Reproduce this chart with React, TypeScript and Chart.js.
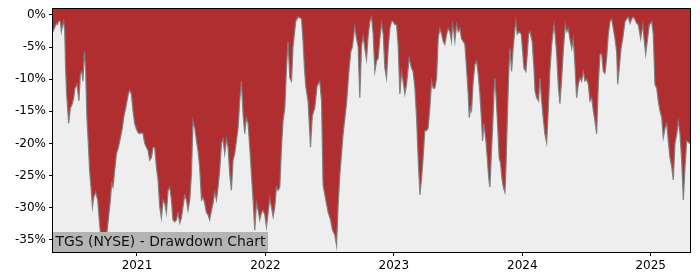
import React, { useEffect, useRef } from "react";
import { Chart, registerables } from "chart.js";

Chart.register(...registerables);

// [decimal year, drawdown %]
const dd2020: [number, number][] = [
  [2020.346, -2.6], [2020.356, -2.1], [2020.372, -1.3], [2020.382, -1.5], [2020.39, -0.9], [2020.403, -1.0],
  [2020.411, -2.6], [2020.419, -1.8], [2020.429, -1.0], [2020.437, -2.3], [2020.444, -8.3], [2020.452, -12.3],
  [2020.468, -16.9], [2020.481, -14.5], [2020.497, -13.8], [2020.507, -12.9], [2020.517, -11.4], [2020.533, -10.8],
  [2020.548, -13.4], [2020.559, -9.2], [2020.569, -8.8], [2020.579, -10.3], [2020.59, -5.7], [2020.6, -8.3],
  [2020.61, -16.0], [2020.621, -20.0], [2020.631, -24.2], [2020.642, -26.8], [2020.653, -29.9], [2020.663, -28.4],
  [2020.678, -27.6], [2020.694, -28.8], [2020.704, -31.4], [2020.715, -33.9], [2020.73, -35.8], [2020.743, -36.5],
  [2020.756, -35.0], [2020.766, -33.9], [2020.782, -30.8], [2020.793, -28.8], [2020.803, -26.2], [2020.813, -26.8],
  [2020.829, -23.7], [2020.84, -21.6], [2020.855, -20.6], [2020.871, -19.1], [2020.886, -17.6], [2020.896, -16.0],
  [2020.912, -14.5], [2020.922, -13.4], [2020.933, -12.3], [2020.943, -11.7], [2020.956, -12.3], [2020.969, -14.9],
  [2020.982, -16.9], [2020.995, -17.7],
];

const dd2021: [number, number][] = [
  [2021.008, -18.3], [2021.021, -18.5], [2021.034, -18.3], [2021.047, -18.5], [2021.06, -20.0], [2021.073, -20.6],
  [2021.086, -21.1], [2021.099, -22.6], [2021.112, -22.2], [2021.125, -20.6], [2021.138, -20.6], [2021.151, -23.7],
  [2021.164, -25.7], [2021.177, -29.9], [2021.19, -31.6], [2021.203, -28.8], [2021.216, -29.3], [2021.229, -30.8],
  [2021.242, -27.3], [2021.255, -26.8], [2021.268, -28.8], [2021.28, -31.9], [2021.294, -32.2], [2021.307, -31.9],
  [2021.319, -30.8], [2021.333, -32.4], [2021.346, -31.6], [2021.358, -29.9], [2021.372, -28.0], [2021.385, -28.8],
  [2021.397, -30.4], [2021.411, -28.8], [2021.424, -24.7], [2021.436, -16.5], [2021.45, -17.6], [2021.463, -19.6],
  [2021.475, -21.1], [2021.488, -23.7], [2021.502, -28.8], [2021.514, -28.4], [2021.527, -29.3], [2021.541, -30.8],
  [2021.553, -31.1], [2021.566, -31.9], [2021.58, -30.4], [2021.592, -29.3], [2021.605, -27.6], [2021.619, -28.8],
  [2021.631, -26.8], [2021.644, -24.2], [2021.658, -20.0], [2021.67, -19.3], [2021.683, -21.6], [2021.697, -19.3],
  [2021.709, -20.6], [2021.722, -24.7], [2021.735, -27.3], [2021.748, -22.6], [2021.761, -21.6], [2021.774, -19.6],
  [2021.787, -17.6], [2021.8, -13.4], [2021.813, -10.3], [2021.826, -15.4], [2021.839, -18.5], [2021.852, -16.0],
  [2021.865, -16.9], [2021.878, -20.6], [2021.891, -24.7], [2021.904, -28.8], [2021.917, -33.5], [2021.93, -29.3],
  [2021.943, -30.4], [2021.956, -31.9], [2021.969, -30.8], [2021.982, -30.4], [2021.995, -31.1],
];

const dd2022: [number, number][] = [
  [2022.008, -33.0], [2022.021, -30.8], [2022.034, -28.5], [2022.047, -29.9], [2022.06, -31.4], [2022.073, -29.9],
  [2022.086, -26.8], [2022.099, -27.3], [2022.112, -26.8], [2022.125, -20.6], [2022.137, -16.5], [2022.151, -14.5],
  [2022.164, -8.3], [2022.176, -4.1], [2022.19, -9.8], [2022.203, -10.3], [2022.215, -4.9], [2022.236, -1.0],
  [2022.254, -0.3], [2022.281, -0.6], [2022.293, -4.1], [2022.304, -8.3], [2022.314, -11.1], [2022.332, -13.4],
  [2022.351, -20.6], [2022.365, -15.7], [2022.384, -14.5], [2022.402, -11.1], [2022.423, -10.3], [2022.437, -13.4],
  [2022.449, -26.5], [2022.47, -28.8], [2022.488, -30.7], [2022.507, -31.9], [2022.522, -33.5], [2022.54, -34.2],
  [2022.554, -35.9], [2022.566, -29.6], [2022.579, -25.0], [2022.605, -18.5], [2022.631, -13.9], [2022.652, -8.3],
  [2022.665, -5.7], [2022.678, -4.9], [2022.696, -1.8], [2022.709, -3.7], [2022.722, -4.9], [2022.735, -12.9],
  [2022.748, -4.9], [2022.761, -3.3], [2022.774, -5.2], [2022.787, -6.9], [2022.8, -3.3], [2022.813, -1.0],
  [2022.826, -0.3], [2022.839, -3.0], [2022.852, -8.8], [2022.865, -7.2], [2022.878, -6.7], [2022.891, -3.7],
  [2022.904, -1.3], [2022.917, -3.0], [2022.93, -8.3], [2022.943, -9.8], [2022.956, -5.2], [2022.969, -2.1],
  [2022.982, -1.0], [2022.994, -1.0],
];

const dd2023: [number, number][] = [
  [2023.008, -1.5], [2023.021, -1.5], [2023.033, -4.6], [2023.047, -12.3], [2023.06, -8.8], [2023.072, -10.3],
  [2023.086, -12.3], [2023.099, -10.8], [2023.119, -6.7], [2023.138, -8.3], [2023.15, -8.8], [2023.164, -11.4],
  [2023.177, -16.0], [2023.189, -22.2], [2023.203, -28.0], [2023.216, -25.3], [2023.228, -22.2], [2023.241, -18.0],
  [2023.255, -18.0], [2023.267, -17.6], [2023.28, -14.5], [2023.294, -10.3], [2023.306, -11.4], [2023.319, -11.4],
  [2023.333, -9.8], [2023.345, -3.7], [2023.358, -2.1], [2023.372, -3.0], [2023.384, -4.1], [2023.397, -4.6],
  [2023.411, -3.0], [2023.423, -2.1], [2023.436, -2.6], [2023.449, -4.1], [2023.457, -1.5], [2023.467, -2.6],
  [2023.475, -4.1], [2023.488, -1.5], [2023.501, -2.6], [2023.514, -2.1], [2023.527, -3.7], [2023.54, -4.1],
  [2023.553, -4.6], [2023.566, -8.3], [2023.579, -12.3], [2023.587, -16.0], [2023.598, -14.5], [2023.605, -14.9],
  [2023.618, -10.3], [2023.631, -7.7], [2023.644, -7.2], [2023.657, -9.2], [2023.67, -12.3], [2023.683, -16.5],
  [2023.691, -19.6], [2023.701, -16.9], [2023.717, -19.6], [2023.727, -22.2], [2023.74, -25.7], [2023.748, -26.8],
  [2023.758, -22.2], [2023.769, -17.6], [2023.779, -12.3], [2023.787, -9.8], [2023.795, -12.3], [2023.805, -16.0],
  [2023.82, -22.2], [2023.831, -23.1], [2023.841, -25.3], [2023.852, -26.8], [2023.865, -27.6], [2023.873, -23.7],
  [2023.883, -16.5], [2023.894, -9.2], [2023.904, -5.2], [2023.917, -8.8], [2023.929, -5.2], [2023.943, -2.1],
  [2023.95, -1.0], [2023.961, -3.0], [2023.976, -2.6], [2023.992, -3.0],
];

const dd2024: [number, number][] = [
  [2024.003, -5.7], [2024.013, -8.3], [2024.028, -8.8], [2024.039, -6.1], [2024.049, -3.0], [2024.06, -2.6],
  [2024.077, -4.1], [2024.091, -8.3], [2024.099, -11.8], [2024.112, -12.9], [2024.127, -13.4], [2024.137, -9.8],
  [2024.151, -13.4], [2024.163, -16.0], [2024.176, -18.5], [2024.19, -19.9], [2024.202, -14.9], [2024.215, -8.8],
  [2024.229, -4.6], [2024.247, -1.5], [2024.254, -2.6], [2024.268, -6.1], [2024.28, -10.8], [2024.293, -13.8],
  [2024.307, -9.8], [2024.319, -5.7], [2024.335, -1.5], [2024.346, -2.6], [2024.358, -2.1], [2024.371, -3.7],
  [2024.385, -5.2], [2024.397, -3.7], [2024.41, -7.7], [2024.423, -12.9], [2024.436, -10.8], [2024.449, -9.8],
  [2024.462, -10.3], [2024.475, -8.8], [2024.488, -10.3], [2024.501, -10.0], [2024.514, -10.8], [2024.527, -13.4],
  [2024.54, -12.9], [2024.553, -14.9], [2024.566, -16.5], [2024.579, -18.5], [2024.592, -10.8], [2024.605, -6.1],
  [2024.618, -6.0], [2024.631, -8.8], [2024.644, -9.1], [2024.657, -6.7], [2024.67, -3.0], [2024.683, -1.0],
  [2024.696, -0.6], [2024.709, -2.1], [2024.722, -3.7], [2024.735, -5.7], [2024.743, -10.8], [2024.755, -8.3],
  [2024.769, -5.2], [2024.782, -3.7], [2024.8, -1.0], [2024.813, -0.6], [2024.825, -0.3], [2024.839, -1.3],
  [2024.852, -0.6], [2024.864, -0.3], [2024.878, -0.7], [2024.891, -1.3], [2024.903, -1.5], [2024.922, -3.7],
  [2024.938, -1.5], [2024.948, -3.7], [2024.961, -6.1], [2024.973, -4.1], [2024.989, -1.5],
];

const dd2025: [number, number][] = [
  [2025.008, -1.0], [2025.02, -3.0], [2025.033, -10.8], [2025.047, -11.4], [2025.059, -13.4], [2025.072, -14.9],
  [2025.086, -16.0], [2025.098, -19.1], [2025.112, -17.6], [2025.125, -16.9], [2025.137, -19.6], [2025.15, -22.2],
  [2025.164, -23.7], [2025.176, -25.7], [2025.189, -20.0], [2025.203, -18.5], [2025.215, -16.5], [2025.228, -18.5],
  [2025.241, -22.6], [2025.254, -28.8], [2025.267, -23.7], [2025.28, -19.6], [2025.306, -20.0],
];

const yTicks = [0, -5, -10, -15, -20, -25, -30, -35];
const xTicks = [2021, 2022, 2023, 2024, 2025];
const yMin = -36.9;
const yMax = 0.93;
const xMin = 2020.346;
const xMax = 2025.306;
const title = "TGS (NYSE) - Drawdown Chart";

export default function App() {
  const ref = useRef<HTMLCanvasElement>(null);

  useEffect(() => {
    if (!ref.current) return;
    const series = [...dd2020, ...dd2021, ...dd2022, ...dd2023, ...dd2024, ...dd2025];

    const framePlugin = {
      id: "frameAndTitle",
      beforeDatasetsDraw(chart: any) {
        const { ctx, chartArea: a } = chart;
        ctx.save();
        ctx.fillStyle = "#eeeeee";
        ctx.fillRect(a.left, a.top, a.right - a.left, a.bottom - a.top);
        ctx.restore();
      },
      afterDatasetsDraw(chart: any) {
        const { ctx, chartArea: a } = chart;
        ctx.save();
        ctx.font = '13.9px "DejaVu Sans"';
        const w = ctx.measureText(title).width;
        ctx.fillStyle = "#b4b4b4";
        ctx.fillRect(a.left, a.bottom - 20, w + 5, 20);
        ctx.fillStyle = "#111111";
        ctx.textBaseline = "middle";
        ctx.textAlign = "left";
        ctx.fillText(title, a.left + 2.5, a.bottom - 9.5);
        ctx.strokeStyle = "#000000";
        ctx.lineWidth = 1;
        ctx.strokeRect(
          Math.round(a.left) - 0.5,
          Math.round(a.top) - 0.5,
          Math.round(a.right) - Math.round(a.left) + 1,
          Math.round(a.bottom) - Math.round(a.top) + 1
        );
        ctx.restore();
      },
    };

    const chart = new Chart(ref.current, {
      type: "line",
      data: {
        datasets: [
          {
            data: series.map(([x, y]) => ({ x, y })),
            borderColor: "rgba(125,125,125,0.95)",
            borderWidth: 1.2,
            backgroundColor: "#b02e30",
            fill: "end",
            pointRadius: 0,
            tension: 0,
          },
        ],
      },
      options: {
        animation: false,
        responsive: false,
        layout: { padding: { top: 7, right: 10, left: 0, bottom: 0 } },
        plugins: { legend: { display: false }, tooltip: { enabled: false } },
        scales: {
          x: {
            type: "linear",
            min: xMin,
            max: xMax,
            afterBuildTicks: (s: any) => {
              s.ticks = xTicks.map((v) => ({ value: v }));
            },
            afterFit: (s: any) => {
              s.height = 28;
            },
            grid: { display: true, drawOnChartArea: false, drawTicks: true, tickLength: 4, color: "#000" },
            border: { display: true, color: "#000" },
            ticks: {
              font: { family: "DejaVu Sans", size: 12 },
              color: "#000",
              padding: 3,
              maxRotation: 0,
              autoSkip: false,
              callback: (v: any) => String(v),
            },
          },
          y: {
            type: "linear",
            min: yMin,
            max: yMax,
            afterBuildTicks: (s: any) => {
              s.ticks = yTicks.map((v) => ({ value: v }));
            },
            afterFit: (s: any) => {
              s.width = 53;
            },
            grid: { display: true, drawOnChartArea: false, drawTicks: true, tickLength: 4, color: "#000" },
            border: { display: true, color: "#000" },
            ticks: {
              font: { family: "DejaVu Sans", size: 12, lineHeight: 1 },
              color: "#000",
              padding: 3,
              autoSkip: false,
              callback: (v: any) => `${v}%`,
            },
          },
        },
      },
      plugins: [framePlugin],
    });
    return () => chart.destroy();
  }, []);

  return (
    <div style={{ position: "fixed", left: 0, top: 0, width: 700, height: 280, background: "#fff" }}>
      <canvas ref={ref} width={700} height={280} />
    </div>
  );
}
